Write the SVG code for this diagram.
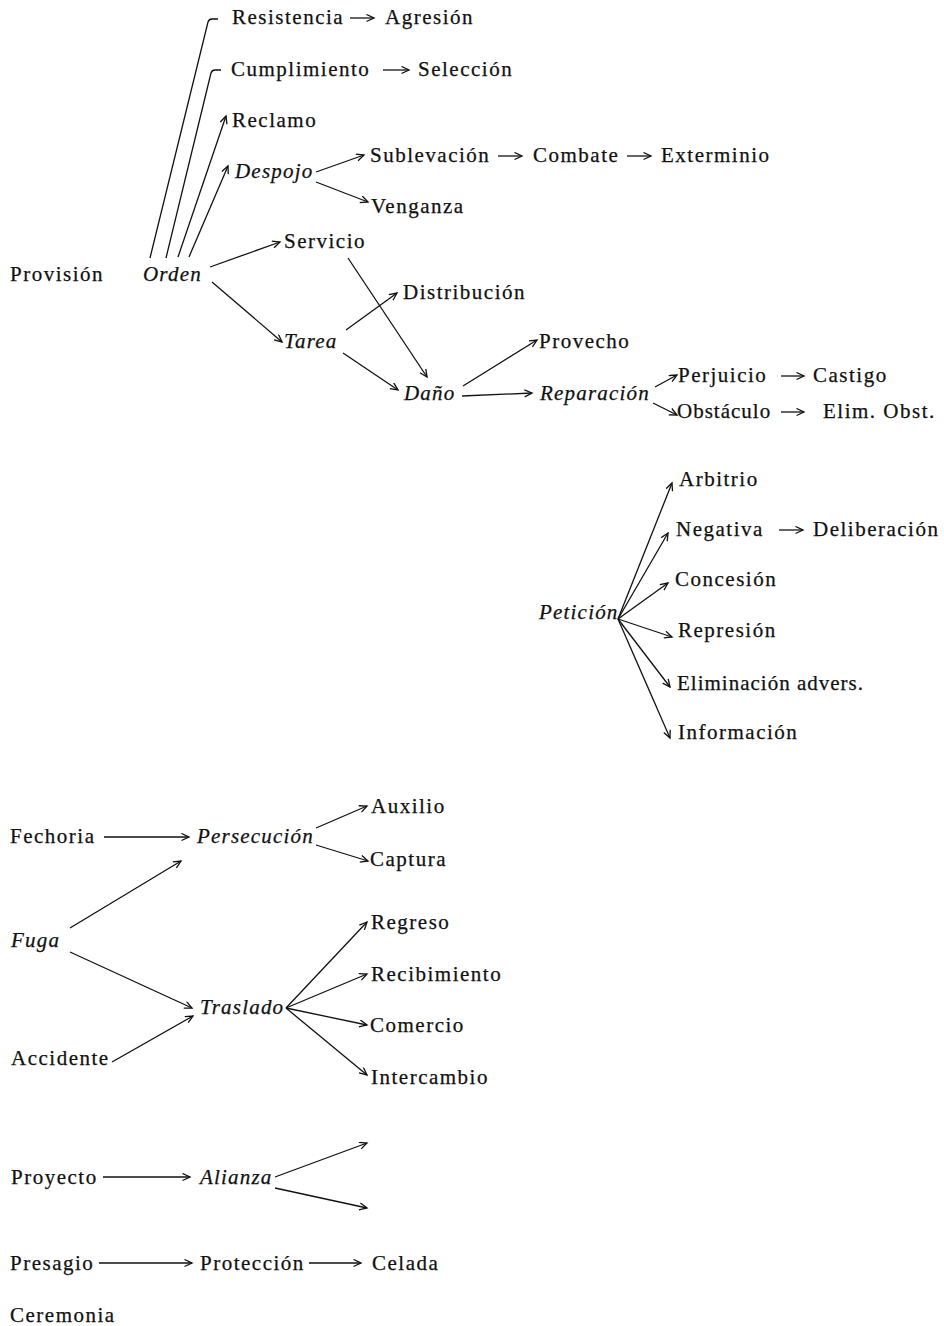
<svg xmlns="http://www.w3.org/2000/svg" width="944" height="1326" viewBox="0 0 944 1326">
<defs>
<marker id="ah" markerUnits="userSpaceOnUse" markerWidth="12" markerHeight="12" refX="8" refY="4" orient="auto">
<path d="M0.5,0.5 L8,4 L0.5,7.5" fill="none" stroke="#111" stroke-width="1.3"/>
</marker>
<style>
text{font-family:"Liberation Serif","Times New Roman",serif;font-size:21px;fill:#111;stroke:#111;stroke-width:0.25;letter-spacing:1.5px}
.i{font-style:italic;letter-spacing:1.2px}
.t{letter-spacing:1px}
.c{fill:none;stroke:#111;stroke-width:1.3}
.a{marker-end:url(#ah)}
</style>
</defs>
<rect width="944" height="1326" fill="#fff"/>
<g id="connectors">
<path class="c" d="M150,258 L208,22 Q209,19 212,19 L218,19"/>
<path class="c" d="M166,258 L211,73 Q212,70 215,70 L221,70"/>
<path class="c a" d="M178,257 L226,116"/>
<path class="c a" d="M189,257 L228,166"/>
<path class="c a" d="M350,18 L374,18"/>
<path class="c a" d="M383,70 L409,70"/>
<path class="c a" d="M316,172 L364,155"/>
<path class="c a" d="M316,182 L368,202"/>
<path class="c a" d="M498,156 L522,156"/>
<path class="c a" d="M627,156 L651,156"/>
<path class="c a" d="M210,267 L280,242"/>
<path class="c a" d="M212,282 L282,342"/>
<path class="c a" d="M348,258 L427,377"/>
<path class="c a" d="M346,330 L397,293"/>
<path class="c a" d="M343,353 L398,390"/>
<path class="c a" d="M463,386 L537,340"/>
<path class="c a" d="M462,396 L532,393"/>
<path class="c a" d="M655,387 L677,375"/>
<path class="c a" d="M653,403 L677,415"/>
<path class="c a" d="M781,376 L804,376"/>
<path class="c a" d="M781,412 L804,412"/>
<path class="c a" d="M618,619 L672,483"/>
<path class="c a" d="M618,619 L668,533"/>
<path class="c a" d="M618,619 L668,583"/>
<path class="c a" d="M618,619 L672,637"/>
<path class="c a" d="M618,619 L670,687"/>
<path class="c a" d="M618,619 L670,738"/>
<path class="c a" d="M779,530 L803,530"/>
<path class="c a" d="M104,837 L189,837"/>
<path class="c a" d="M316,828 L367,806"/>
<path class="c a" d="M316,845 L368,861"/>
<path class="c a" d="M70,928 L181,861"/>
<path class="c a" d="M70,952 L192,1008"/>
<path class="c a" d="M112,1062 L193,1016"/>
<path class="c a" d="M286,1008 L367,922"/>
<path class="c a" d="M286,1008 L367,974"/>
<path class="c a" d="M286,1008 L367,1025"/>
<path class="c a" d="M286,1008 L367,1075"/>
<path class="c a" d="M275,1177 L367,1143"/>
<path class="c a" d="M275,1188 L367,1208"/>
<path class="c a" d="M103,1177 L190,1177"/>
<path class="c a" d="M99,1263 L192,1263"/>
<path class="c a" d="M309,1263 L361,1263"/>
</g>
<g id="n-resistencia"><text x="232" y="24">Resistencia</text></g>
<g id="n-agresion"><text x="385" y="24">Agresión</text></g>
<g id="n-cumplimiento"><text x="231" y="76">Cumplimiento</text></g>
<g id="n-seleccion"><text x="418" y="76">Selección</text></g>
<g id="n-reclamo"><text x="232" y="127">Reclamo</text></g>
<g id="n-despojo"><text class="i" x="235" y="178">Despojo</text></g>
<g id="n-sublevacion"><text x="370" y="162">Sublevación</text></g>
<g id="n-combate"><text x="533" y="162">Combate</text></g>
<g id="n-exterminio"><text x="661" y="162">Exterminio</text></g>
<g id="n-venganza"><text x="371" y="213">Venganza</text></g>
<g id="n-servicio"><text x="284" y="248">Servicio</text></g>
<g id="n-provision"><text x="10" y="281">Provisión</text></g>
<g id="n-orden"><text class="i" x="143" y="281">Orden</text></g>
<g id="n-distribucion"><text x="403" y="299">Distribución</text></g>
<g id="n-tarea"><text class="i" x="284" y="348">Tarea</text></g>
<g id="n-provecho"><text x="539" y="348">Provecho</text></g>
<g id="n-dano"><text class="i" x="404" y="400">Daño</text></g>
<g id="n-reparacion"><text class="i" x="540" y="400">Reparación</text></g>
<g id="n-perjuicio"><text x="678" y="382">Perjuicio</text></g>
<g id="n-castigo"><text x="813" y="382">Castigo</text></g>
<g id="n-obstaculo"><text class="t" x="677" y="418">Obstáculo</text></g>
<g id="n-elim"><text x="823" y="418">Elim. Obst.</text></g>
<g id="n-arbitrio"><text x="679" y="486">Arbitrio</text></g>
<g id="n-negativa"><text x="676" y="536">Negativa</text></g>
<g id="n-deliberacion"><text x="813" y="536">Deliberación</text></g>
<g id="n-concesion"><text x="675" y="586">Concesión</text></g>
<g id="n-peticion"><text class="i" x="539" y="619">Petición</text></g>
<g id="n-represion"><text x="678" y="637">Represión</text></g>
<g id="n-eliminacion"><text class="t" x="677" y="690">Eliminación advers.</text></g>
<g id="n-informacion"><text x="678" y="739">Información</text></g>
<g id="n-fechoria"><text x="10" y="843">Fechoria</text></g>
<g id="n-persecucion"><text class="i" x="197" y="843">Persecución</text></g>
<g id="n-auxilio"><text x="371" y="813">Auxilio</text></g>
<g id="n-captura"><text x="370" y="866">Captura</text></g>
<g id="n-fuga"><text class="i" x="11" y="947">Fuga</text></g>
<g id="n-regreso"><text x="371" y="929">Regreso</text></g>
<g id="n-recibimiento"><text x="371" y="981">Recibimiento</text></g>
<g id="n-traslado"><text class="i" x="200" y="1014">Traslado</text></g>
<g id="n-comercio"><text x="370" y="1032">Comercio</text></g>
<g id="n-accidente"><text x="11" y="1065">Accidente</text></g>
<g id="n-intercambio"><text x="371" y="1084">Intercambio</text></g>
<g id="n-proyecto"><text x="11" y="1184">Proyecto</text></g>
<g id="n-alianza"><text class="i" x="200" y="1184">Alianza</text></g>
<g id="n-presagio"><text x="10" y="1270">Presagio</text></g>
<g id="n-proteccion"><text x="200" y="1270">Protección</text></g>
<g id="n-celada"><text x="372" y="1270">Celada</text></g>
<g id="n-ceremonia"><text x="10" y="1322">Ceremonia</text></g>
</svg>
